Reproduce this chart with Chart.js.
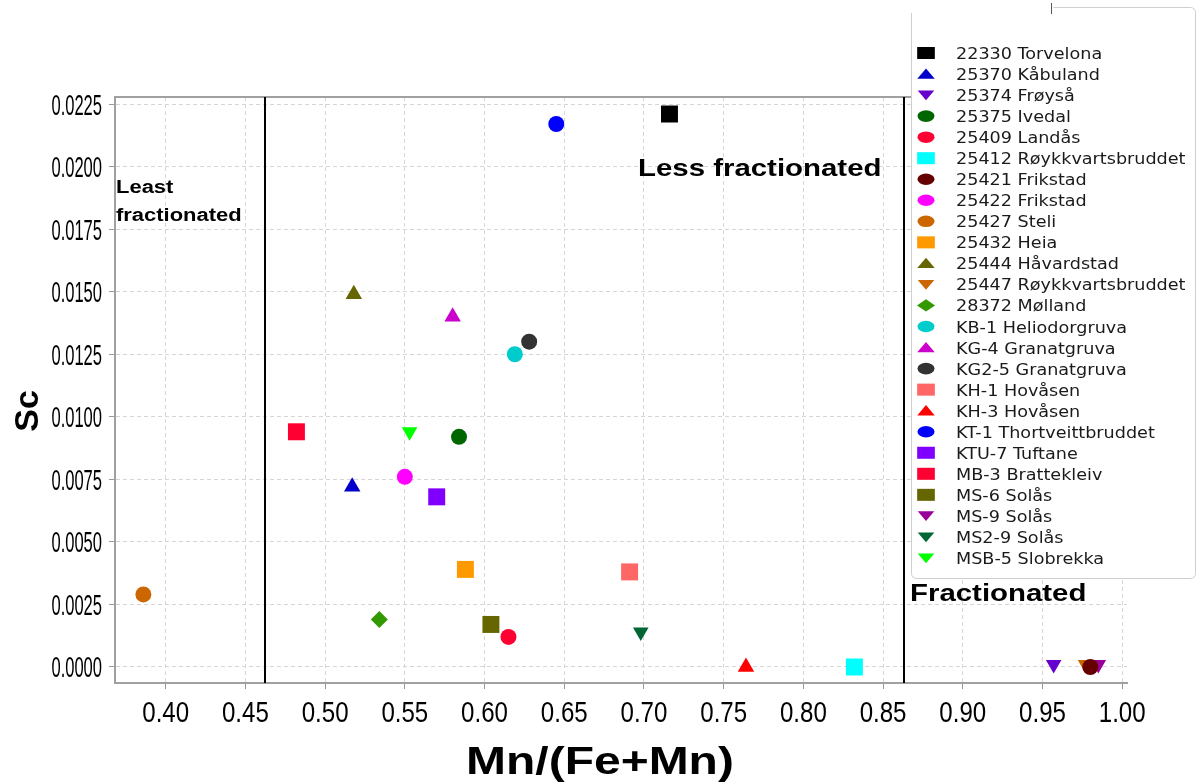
<!DOCTYPE html>
<html>
<head>
<meta charset="utf-8">
<script src="https://cdn.jsdelivr.net/npm/chart.js@4"></script>
<style>
  body { margin: 0; background: #fff; }
  canvas { display: block; }
</style>
</head>
<body>
<canvas id="grafico-sc" width="1203" height="782"></canvas>
<script>
// ── DATOS ───────────────────────────────────────────────────
const muestras = [
  '22330 Torvelona', '25370 Kåbuland', '25374 Frøyså', '25375 Ivedal', '25409 Landås',
  '25412 Røykkvartsbruddet', '25421 Frikstad', '25422 Frikstad', '25427 Steli', '25432 Heia',
  '25444 Håvardstad', '25447 Røykkvartsbruddet', '28372 Mølland', 'KB-1 Heliodorgruva',
  'KG-4 Granatgruva', 'KG2-5 Granatgruva', 'KH-1 Hovåsen', 'KH-3 Hovåsen',
  'KT-1 Thortveittbruddet', 'KTU-7 Tuftane', 'MB-3 Brattekleiv', 'MS-6 Solås',
  'MS-9 Solås', 'MS2-9 Solås', 'MSB-5 Slobrekka'
];

// Mn/(Fe+Mn)
const mnFeMn = [
  0.716, 0.517, 0.957, 0.584, 0.615,
  0.832, 0.980, 0.550, 0.386, 0.588,
  0.518, 0.977, 0.534, 0.619,
  0.580, 0.628, 0.691, 0.764,
  0.645, 0.570, 0.482, 0.604,
  0.985, 0.698, 0.553
];

// Sc
const sc = [
  0.0221, 0.0072, 0.0001, 0.0092, 0.0012,
  0.0000, 0.0000, 0.0076, 0.0029, 0.0039,
  0.0149, 0.0001, 0.0019, 0.0125,
  0.0140, 0.0130, 0.0038, 0.0000,
  0.0217, 0.0068, 0.0094, 0.0017,
  0.0001, 0.0014, 0.0094
];

const ticksX = [0.40, 0.45, 0.50, 0.55, 0.60, 0.65, 0.70, 0.75, 0.80, 0.85, 0.90, 0.95, 1.00];
const ticksY = [0, 0.0025, 0.0050, 0.0075, 0.0100, 0.0125, 0.0150, 0.0175, 0.0200, 0.0225];

// límites de fraccionamiento (líneas verticales)
const limites = [0.462, 0.863];

// ── ESTILOS ─────────────────────────────────────────────────
const colores = [
  '#000000', '#0000cc', '#6600cc', '#006600', '#ff0033',
  '#00ffff', '#660000', '#ff00ff', '#cc6600', '#ff9900',
  '#666600', '#cc6600', '#339900', '#00cccc',
  '#cc00cc', '#333333', '#ff6666', '#ff0000',
  '#0000ff', '#8000ff', '#ff0033', '#666600',
  '#990099', '#006633', '#00ff00'
];
const formas = [
  'rect', 'tri', 'down', 'circle', 'circle',
  'rect', 'circle', 'circle', 'circle', 'rect',
  'tri', 'down', 'diamond', 'circle',
  'tri', 'circle', 'rect', 'tri',
  'circle', 'rect', 'rect', 'rect',
  'down', 'down', 'down'
];
const marcador = {
  rect:    { style: 'rect', radius: 12, rot: 0 },
  circle:  { style: 'circle', radius: 8, rot: 0 },
  tri:     { style: 'triangle', radius: 9.5, rot: 0 },
  down:    { style: 'triangle', radius: 9, rot: 180 },
  diamond: { style: 'rectRot', radius: 8.5, rot: 0 }
};

// texto con escala horizontal
function texto(ctx, str, x, y, font, sx, align, color) {
  ctx.save();
  ctx.font = font;
  ctx.fillStyle = color || '#000';
  ctx.textAlign = align || 'left';
  ctx.textBaseline = 'alphabetic';
  ctx.translate(x, y);
  ctx.scale(sx, 1);
  ctx.fillText(str, 0, 0);
  ctx.restore();
}

// ── PLUGIN: marco, etiquetas, leyenda ───────────────────────
const decorado = {
  id: 'decorado',
  beforeDatasetsDraw(chart) {
    const { ctx, chartArea: a, scales: { x } } = chart;
    ctx.save();
    // borde superior
    ctx.strokeStyle = '#a0a0a0';
    ctx.lineWidth = 2;
    ctx.beginPath();
    ctx.moveTo(a.left, a.top);
    ctx.lineTo(a.right, a.top);
    ctx.stroke();
    // líneas de fraccionamiento
    ctx.strokeStyle = '#000';
    ctx.lineWidth = 2;
    limites.forEach(v => {
      const px = Math.round(x.getPixelForValue(v));
      ctx.beginPath();
      ctx.moveTo(px, a.top);
      ctx.lineTo(px, a.bottom);
      ctx.stroke();
    });
    ctx.restore();
  },
  afterDraw(chart) {
    const { ctx, scales: { x, y } } = chart;

    // etiquetas de los ejes
    y.ticks.forEach(t => {
      texto(ctx, t.value.toFixed(4), 102, y.getPixelForValue(t.value) + 10.5,
        "29px 'Liberation Sans', Arial, sans-serif", 0.57, 'right', '#000');
    });
    x.ticks.forEach(t => {
      texto(ctx, t.value.toFixed(2), x.getPixelForValue(t.value), 722,
        "29px 'Liberation Sans', Arial, sans-serif", 0.83, 'center', '#000');
    });

    // títulos
    texto(ctx, 'Mn/(Fe+Mn)', 600, 774, "bold 39px 'Liberation Sans', Arial, sans-serif", 1.23, 'center');
    ctx.save();
    ctx.translate(38, 411);
    ctx.rotate(-Math.PI / 2);
    texto(ctx, 'Sc', 0, 0, "bold 34px 'Liberation Sans', Arial, sans-serif", 1, 'center');
    ctx.restore();

    // anotaciones
    const negrita = s => `bold ${s}px 'Liberation Sans', Arial, sans-serif`;
    texto(ctx, 'Least', 116, 193, negrita(18), 1.22);
    texto(ctx, 'fractionated', 116, 221, negrita(18), 1.22);
    texto(ctx, 'Less fractionated', 638, 176, negrita(24.5), 1.2);
    texto(ctx, 'Fractionated', 910, 601, negrita(24.5), 1.2);

    // leyenda
    ctx.save();
    ctx.fillStyle = '#fff';
    ctx.fillRect(911, 7, 284, 571);
    ctx.strokeStyle = '#cfcfcf';
    ctx.lineWidth = 1;
    ctx.beginPath();
    ctx.moveTo(1053.5, 7.5);
    ctx.lineTo(1190, 7.5);
    ctx.arcTo(1195.5, 7.5, 1195.5, 13, 5);
    ctx.lineTo(1195.5, 573);
    ctx.arcTo(1195.5, 578.5, 1190, 578.5, 5);
    ctx.lineTo(916, 578.5);
    ctx.arcTo(911.5, 578.5, 911.5, 573, 5);
    ctx.lineTo(911.5, 13);
    ctx.stroke();
    ctx.strokeStyle = '#555';
    ctx.beginPath();
    ctx.moveTo(1051.5, 3);
    ctx.lineTo(1051.5, 14);
    ctx.stroke();
    ctx.restore();

    chart.data.datasets.forEach((ds, i) => {
      const cy = 53 + i * 21.04;
      const m = marcador[formas[i]];
      ctx.save();
      ctx.translate(926, cy);
      ctx.scale(1.25, 0.85);
      ctx.fillStyle = ds.backgroundColor;
      ctx.strokeStyle = ds.backgroundColor;
      Chart.helpers.drawPoint(ctx, {
        pointStyle: m.style,
        radius: m.style === 'rect' ? 10 : m.radius * 0.85,
        rotation: m.rot,
        borderWidth: 0
      }, 0, m.style === 'triangle' ? (m.rot ? -1.5 : 1.5) : 0);
      ctx.restore();
      texto(ctx, ds.label, 956, cy + 6, "16px 'DejaVu Sans', Verdana, sans-serif", 1.1, 'left', '#1a1a1a');
    });
  }
};

// ── GRÁFICO ─────────────────────────────────────────────────
const conjuntos = muestras.map((nombre, i) => {
  const m = marcador[formas[i]];
  return {
    label: nombre,
    data: [{ x: mnFeMn[i], y: sc[i] }],
    backgroundColor: colores[i],
    borderColor: colores[i],
    borderWidth: 0,
    pointStyle: m.style,
    pointRadius: m.radius,
    pointRotation: m.rot,
    pointBorderWidth: 0
  };
});

new Chart(document.getElementById('grafico-sc').getContext('2d'), {
  type: 'scatter',
  data: { datasets: conjuntos },
  options: {
    responsive: false,
    devicePixelRatio: 1,
    animation: false,
    layout: { padding: { top: 97, right: 76, left: 0, bottom: 0 } },
    plugins: {
      legend: { display: false },
      tooltip: { enabled: false }
    },
    scales: {
      x: {
        type: 'linear',
        min: 0.3682,
        max: 1.003,
        afterBuildTicks: s => { s.ticks = ticksX.map(v => ({ value: v })); },
        afterFit: s => { s.height = 99; },
        ticks: { display: false },
        grid: { color: '#d6d6d6', tickColor: '#999', tickLength: 6, lineWidth: 1 },
        border: { color: '#a0a0a0', width: 2, dash: [4, 3] }
      },
      y: {
        type: 'linear',
        min: -0.00064,
        max: 0.02278,
        afterBuildTicks: s => { s.ticks = ticksY.map(v => ({ value: v })); },
        afterFit: s => { s.width = 115; },
        ticks: { display: false },
        grid: { color: '#d6d6d6', tickColor: '#999', tickLength: 6, lineWidth: 1 },
        border: { color: '#a0a0a0', width: 2, dash: [4, 3] }
      }
    }
  },
  plugins: [decorado]
});
</script>
</body>
</html>
